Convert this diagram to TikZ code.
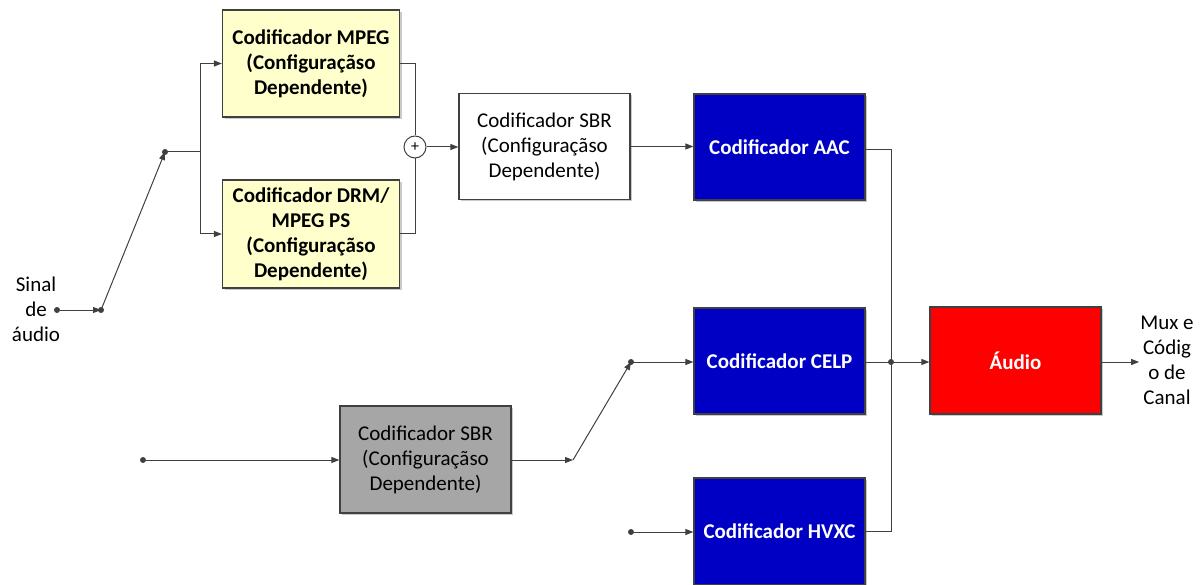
\documentclass[tikz,border=0pt]{standalone}
\usepackage{fontspec}
\setmainfont{Carlito}
\usetikzlibrary{arrows.meta,shadows}
\definecolor{lnc}{HTML}{404040}
\definecolor{yel}{HTML}{FFFFCC}
\definecolor{blu}{HTML}{0000C4}
\definecolor{redb}{HTML}{FF0000}
\definecolor{gryb}{HTML}{A6A6A6}
\tikzset{
  blk/.style={draw=lnc, line width=1.2pt, minimum width=171pt, minimum height=106pt,
    inner sep=2pt, align=center, font=\fontsize{21}{25}\selectfont,
    drop shadow={shadow xshift=2pt, shadow yshift=-2pt, fill=black!35, opacity=0.6}},
  yelbox/.style={blk, fill=yel, minimum width=177pt, font=\fontsize{21}{25}\selectfont\bfseries},
  whbox/.style={blk, fill=white},
  blubox/.style={blk, fill=blu, text=white, font=\fontsize{21}{25}\selectfont\bfseries},
  redbox/.style={blk, fill=redb, text=white, font=\fontsize{21}{25}\selectfont\bfseries},
  grybox/.style={blk, fill=gryb},
  conn/.style={draw=lnc, line width=1pt},
  arr/.style={conn, -{Triangle[length=8pt,width=6pt]}},
  dotn/.style={circle, fill=lnc, inner sep=0pt, minimum size=6pt},
  lbl/.style={align=center, inner sep=1pt, font=\fontsize{21}{25}\selectfont},
}
\begin{document}
\begin{tikzpicture}[x=1pt,y=-1pt]
\useasboundingbox (0,0) rectangle (1204,585);
% blocks
\node[yelbox, minimum height=107pt] (mpeg) at (311,63.5) {Codificador MPEG\\(Configuraçãso\\Dependente)};
\node[yelbox, minimum height=108pt] (drm) at (311,234) {Codificador DRM/\\MPEG PS\\(Configuraçãso\\Dependente)};
\node[circle, draw=lnc, line width=1pt, fill=white, minimum size=22pt, inner sep=0pt, font=\fontsize{16}{16}\selectfont] (sum) at (415,147) {+};
\node[whbox] (sbr1) at (544.5,146.5) {Codificador SBR\\(Configuraçãso\\Dependente)};
\node[blubox] (aac) at (779.5,147) {Codificador AAC};
\node[blubox] (celp) at (779.5,361) {Codificador CELP};
\node[blubox, minimum height=107pt] (hvxc) at (779.5,531.5) {Codificador HVXC};
\node[redbox, minimum height=107pt] (audio) at (1015.5,360.5) {Áudio};
\node[grybox, minimum height=107pt] (sbr2) at (425.5,459.5) {Codificador SBR\\(Configuraçãso\\Dependente)};
% labels
\node[lbl] (sinal) at (36,309) {Sinal\\de\\áudio};
\node[lbl] (mux) at (1167,360.5) {Mux e\\Códig\\o de\\Canal};
% dots and coordinates
\node[dotn] (in) at (57,310) {};
\node[dotn] (sw1) at (101,310) {};
\node[dotn] (sw2) at (165,152) {};
\coordinate (br) at (200,152);
\node[dotn] (s3) at (143,460) {};
\coordinate (sw3) at (573,460);
\node[dotn] (sw4) at (631,362) {};
\node[dotn] (hvin) at (631,532) {};
\node[dotn] (bj) at (891,362) {};
% connectors upper path
\draw[arr] (in) -- (sw1.center);
\draw[arr] (sw1.center) -- (sw2.center);
\draw[conn] (sw2.center) -- (br);
\draw[arr] (br) |- (mpeg.west);
\draw[arr] (br) |- (drm.west);
\draw[conn] (mpeg.east) -| (sum.north);
\draw[conn] (drm.east) -| (sum.south);
\draw[arr] (sum.east) -- (sbr1.west |- sum.east);
\draw[arr] (sbr1.east) -- (aac.west |- sbr1.east);
% bus
\draw[conn] ([yshift=-3pt]aac.east) -| (bj.center) |- (hvxc.east);
\draw[conn] (celp.east |- bj) -- (bj.center);
\draw[arr] (bj.center) -- (audio.west |- bj);
\draw[arr] (audio.east |- bj) -- (mux.west |- bj);
% lower path
\draw[arr] (s3) -- (sbr2.west |- s3);
\draw[arr] (sbr2.east |- sw3) -- (sw3);
\draw[arr] (sw3) -- (sw4.center);
\draw[arr] (sw4.center) -- (celp.west |- sw4);
\draw[arr] (hvin) -- (hvxc.west |- hvin);
\end{tikzpicture}
\end{document}
